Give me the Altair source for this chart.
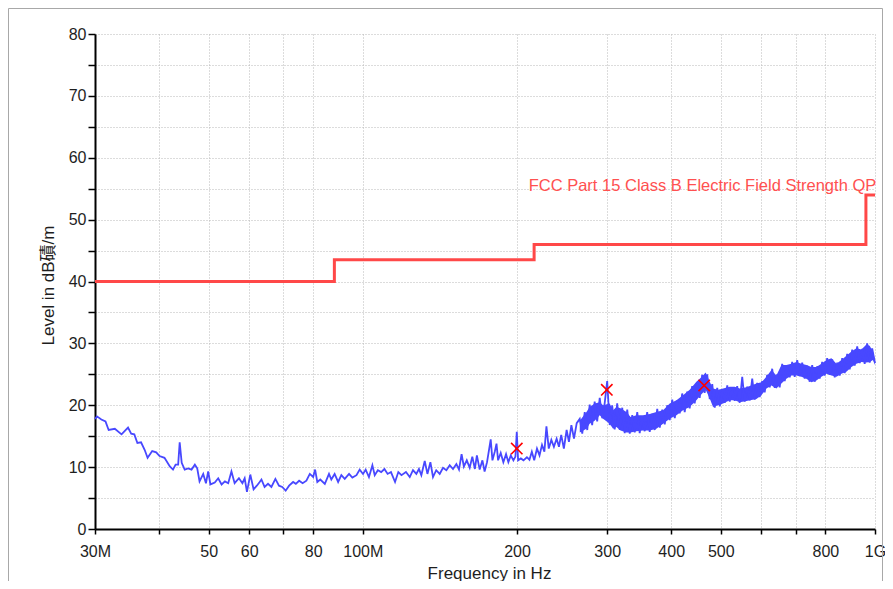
import altair as alt
import pandas as pd

# ---------------- data ----------------
trace_freq = [30.0, 30.27, 30.87, 31.45, 31.9, 32.8, 33.8, 34.8, 35.3, 35.8, 36.3, 36.9, 37.5, 38.0,
              38.8, 39.5, 40.1, 41.0, 42.0, 42.6, 43.1, 43.6, 43.9, 44.3, 44.9, 45.6, 46.3, 47.0,
              47.5, 48.0, 48.8, 49.4, 49.9, 50.4, 51.4, 52.2, 53.0, 53.8, 54.6, 55.4, 56.2, 57.3,
              58.2, 58.8, 59.4, 60.3, 61.2, 62.1, 62.9, 63.4, 64.3, 65.3, 66.3, 67.5, 68.6, 69.6,
              70.7, 71.8, 73.1, 74.0, 75.1, 76.3, 77.6, 78.8, 80.0, 80.7, 81.5, 82.6, 84.3, 85.9,
              86.8, 88.1, 89.5, 90.8, 92.2, 94.0, 95.4, 97.2, 98.6, 100.1, 101.3, 102.8, 104.4,
              105.5, 107.0, 108.6, 110.2, 111.8, 113.5, 115.6, 117.3, 119.0, 121.4, 123.5, 125.3,
              127.2, 128.7, 130.1, 132.1, 133.7, 135.5, 137.1, 139.1, 141.3, 143.4, 145.6, 147.8,
              150.0, 152.3, 154.1, 155.9, 157.5, 159.6, 161.7, 163.6, 165.5, 167.0, 169.1, 171.2,
              172.9, 174.8, 176.3, 177.7, 179.1, 181.0, 182.4, 183.7, 185.9, 188.1, 190.4, 192.4,
              194.5, 196.8, 198.6, 199.8, 201.0, 203.5, 205.9, 209.1, 211.5, 213.8, 216.1, 218.8,
              221.3, 223.8, 226.2, 228.3, 230.7, 233.4, 236.1, 239.0, 241.5, 244.0, 246.9, 250.0,
              252.6, 255.4, 258.4, 261.6,
              265.2, 268.2, 271.2, 274.3, 277.3, 280.4, 283.6, 286.8, 290.1, 293.4, 296.7, 300.0,
              303.4, 306.8, 310.3, 313.8, 317.4, 321.0, 324.6, 328.3, 332.0, 335.8, 339.5, 343.4,
              347.2, 351.1, 355.1, 359.1, 363.2, 367.3, 371.5, 375.7, 380.0, 384.3, 388.6, 393.0,
              397.4, 401.9, 406.5, 411.0, 415.6, 420.3, 425.1, 429.9, 434.7, 439.6, 444.6, 449.6,
              454.7, 459.8, 465.0, 470.3, 475.7, 481.1, 486.5, 492.0, 497.6, 503.2, 508.9, 514.7,
              520.4, 526.3, 532.2, 538.2, 544.3, 550.5, 556.7, 563.0, 569.4, 575.8, 582.3, 588.9,
              595.5, 602.2, 609.0, 615.9, 622.9, 629.9, 637.1, 644.3, 651.5, 658.9, 666.3, 673.9,
              681.5, 689.2, 697.0, 704.9, 712.8, 720.9, 729.0, 737.3, 745.6, 754.0, 762.5, 771.1,
              779.8, 788.6, 797.6, 806.6, 815.8, 825.0, 834.3, 843.8, 853.3, 862.9, 872.7, 882.5,
              892.5, 902.6, 912.8, 923.1, 933.5, 944.1, 954.7, 965.5, 976.3, 987.3, 1000.0]
trace_level = [17.8, 18.2, 17.7, 17.4, 16.0, 16.2, 15.3, 16.4, 15.4, 15.3, 13.9, 14.0, 12.8, 11.5,
               12.6, 12.4, 11.8, 11.5, 10.1, 9.6, 10.4, 10.4, 14.0, 10.7, 9.6, 9.8, 9.6, 10.4,
               9.8, 7.7, 8.9, 7.4, 9.3, 7.2, 7.5, 8.2, 7.2, 7.7, 7.4, 9.3, 7.4, 8.2,
               7.4, 8.2, 6.0, 8.8, 6.4, 7.0, 7.6, 8.0, 6.8, 7.3, 6.8, 8.1, 7.0, 6.8,
               6.2, 7.0, 7.6, 7.3, 7.8, 7.4, 7.8, 8.9, 8.4, 9.6, 7.6, 8.0, 7.3, 8.9,
               8.0, 8.9, 7.6, 8.7, 8.1, 8.9, 8.3, 8.7, 9.6, 8.9, 9.6, 8.4, 10.3,
               8.7, 9.5, 9.2, 9.7, 8.9, 9.2, 7.6, 9.2, 8.7, 9.2, 8.4, 9.5,
               8.9, 9.7, 8.7, 11.0, 8.9, 10.8, 8.4, 9.5, 8.9, 9.9, 9.5, 10.3,
               9.7, 10.5, 9.6, 12.1, 10.1, 11.1, 9.9, 11.7, 9.7, 11.9, 9.6, 11.1,
               9.3, 10.8, 12.7, 14.5, 11.1, 12.5, 13.8, 11.1, 12.3, 10.8, 12.1, 10.8,
               11.9, 11.1, 11.7, 15.7, 11.1, 11.4, 11.1, 11.6, 11.2, 12.5, 11.1, 13.0,
               11.9, 13.6, 12.5, 16.6, 13.0, 14.4, 13.3, 14.6, 13.3, 15.2, 13.0, 16.0,
               14.1, 16.8, 14.6, 17.1,
               17.8, 15.4, 18.9, 16.0, 20.1, 16.8, 20.6, 17.4, 21.2, 17.9, 20.4, 23.9,
               16.8, 20.0, 16.1, 20.3, 16.0, 19.6, 15.5, 19.3, 15.4, 18.4, 15.6, 18.9,
               15.5, 18.2, 15.8, 18.9, 15.7, 18.6, 16.0, 19.4, 16.4, 19.3, 16.9, 20.0,
               17.6, 20.9, 17.9, 20.8, 18.7, 21.9, 18.9, 22.2, 19.5, 23.1, 20.3, 23.6,
               21.2, 24.9, 22.0, 25.0, 21.0, 23.4, 19.6, 22.8, 19.8, 22.5, 20.4, 23.2,
               20.6, 22.6, 20.7, 23.1, 20.4, 24.6, 20.6, 23.0, 20.8, 24.3, 20.9, 23.6,
               21.3, 23.9, 22.1, 24.9, 22.9, 25.9, 22.8, 25.0, 22.9, 26.7, 23.9, 26.4,
               24.5, 27.0, 24.6, 27.3, 24.7, 26.9, 24.3, 26.4, 23.8, 26.5, 23.8, 26.3,
               24.3, 27.0, 24.8, 27.6, 24.9, 27.4, 24.5, 26.9, 24.8, 27.6, 25.2, 28.3,
               25.8, 29.0, 26.4, 29.5, 26.8, 29.1, 26.7, 30.0, 26.9, 29.2, 26.8]

band_freq = [265.2, 273.3, 277.3, 283.6, 290.1, 294.5, 303.4, 308.0, 312.7,
             318.6, 327.1, 333.3, 342.2, 352.4, 363.2, 374.3, 385.7, 397.4, 409.6, 421.8, 434.7,
             448.0, 456.4, 467.1, 475.7, 482.8, 493.8, 505.1, 520.4, 532.2, 544.3,
             561.0, 586.8, 600.1, 613.7, 627.8, 641.9, 656.6, 671.4,
             686.8, 702.3, 718.4, 734.6, 751.4, 768.4, 785.9, 803.7, 822.2, 840.8, 860.0, 879.4,
             899.5, 919.8, 940.8, 962.1, 976.3, 990.9, 1000.0]
band_high = [17.5, 18.9, 19.7, 20.3, 20.5, 20.0, 20.3, 19.2, 19.7,
             19.5, 18.9, 18.1, 18.4, 18.4, 18.6, 18.9, 19.2, 20.3, 20.8, 21.6, 22.5,
             23.8, 24.4, 25.3, 23.8, 22.7, 22.5, 22.7, 23.0, 23.0, 22.7,
             22.9, 23.5, 23.7, 24.6, 25.7, 24.8, 26.5, 26.5,
             26.7, 27.0, 26.7, 26.5, 26.2, 26.2, 26.7, 27.3, 27.6, 26.7, 27.3, 28.0,
             28.7, 29.2, 29.0, 29.8, 29.6, 28.7, 27.3]
band_low = [15.6, 16.2, 17.0, 17.5, 18.4, 17.8, 17.0, 16.2, 16.5,
            15.9, 15.6, 15.6, 15.8, 15.9, 15.9, 16.2, 17.0, 17.8, 18.4, 19.2, 19.7,
            20.8, 21.6, 22.5, 21.1, 19.7, 20.0, 20.3, 20.8, 20.8, 20.5,
            20.7, 21.0, 21.6, 22.7, 23.2, 22.7, 23.5, 24.3,
            24.8, 24.8, 24.6, 24.3, 23.7, 24.0, 24.6, 25.1, 24.8, 24.6, 25.1, 25.4,
            26.2, 26.7, 27.0, 26.9, 27.0, 27.3, 26.5]

limit_freq = [30, 88, 216, 960, 1000]
limit_level = [40, 43.5, 46, 54, 54]

peak_freq = [199.8, 299.5, 464.0]
peak_level = [13.0, 22.5, 23.2]

label_text = ["FCC Part 15 Class B Electric Field Strength QP"]
label_freq = [210.8]
label_level = [54.7]

x_ticks = [30, 40, 50, 60, 70, 80, 100, 200, 300, 400, 500, 600, 700, 800, 1000]
x_tick_labels = ["30M", "", "50", "60", "", "80", "100M", "200", "300", "400", "500", "", "", "800", "1G"]
y_ticks = list(range(0, 81, 5))

# ---------------- chart ----------------
FONT = "'Liberation Sans', Arial, 'Noto Sans CJK SC', sans-serif"
BLUE = "#4848ff"
RED = "#ff4848"

x_expr = " : ".join(f"datum.value == {v} ? '{t}'" for v, t in zip(x_ticks, x_tick_labels)) + " : ''"

xs = alt.Scale(type="log", domain=[30, 1000], nice=False)
ys = alt.Scale(domain=[0, 80], nice=False, zero=True)

xaxis = alt.Axis(values=x_ticks, labelExpr=x_expr, tickSize=5, labelPadding=9,
                 labelFlush=False, labelOverlap=False, labelBound=False,
                 title="Frequency in Hz", titleX=394, titleY=49,
                 titleBaseline="alphabetic", titleAlign="center")
yaxis = alt.Axis(values=y_ticks, labelExpr="datum.value % 10 == 0 ? datum.label : ''",
                 tickSize=7, labelPadding=2, labelOverlap=False, labelFlush=False,
                 title="Level in dB磧/m", titleX=-47, titleY=251, titleAngle=270,
                 titleBaseline="middle", titleAlign="center")

trace_df = pd.DataFrame({"freq": trace_freq, "level": trace_level})
band_df = pd.DataFrame({"freq": band_freq, "low": band_low, "high": band_high})
limit_df = pd.DataFrame({"freq": limit_freq, "level": limit_level})
peak_df = pd.DataFrame({"freq": peak_freq, "level": peak_level})
label_df = pd.DataFrame({"freq": label_freq, "level": label_level, "text": label_text})

frame = alt.Chart(pd.DataFrame({"a": [0]})).mark_rect(
    fill=None, stroke="#a8a8a8", strokeWidth=1
).encode(x=alt.value(-86.5), x2=alt.value(787.5), y=alt.value(-25.5), y2=alt.value(620))

band = alt.Chart(band_df).mark_area(color=BLUE, opacity=1).encode(
    x=alt.X("freq:Q", scale=xs, axis=xaxis),
    y=alt.Y("low:Q", scale=ys, axis=yaxis),
    y2="high:Q",
)

trace = alt.Chart(trace_df).mark_line(color=BLUE, strokeWidth=1.8).encode(
    x=alt.X("freq:Q", scale=xs, axis=xaxis),
    y=alt.Y("level:Q", scale=ys, axis=yaxis),
    order=alt.Order("freq:Q"),
)

limit = alt.Chart(limit_df).mark_line(color=RED, strokeWidth=3, interpolate="step-after").encode(
    x=alt.X("freq:Q", scale=xs, axis=xaxis),
    y=alt.Y("level:Q", scale=ys, axis=yaxis),
)

peaks = alt.Chart(peak_df).mark_point(
    shape="M-1,-1L1,1M-1,1L1,-1", size=130, filled=False, color="#ff0000",
    strokeWidth=1.6, opacity=1
).encode(
    x=alt.X("freq:Q", scale=xs, axis=xaxis),
    y=alt.Y("level:Q", scale=ys, axis=yaxis),
)

label = alt.Chart(label_df).mark_text(
    align="left", baseline="alphabetic", color="#ff5050", font=FONT, fontSize=16.5
).encode(
    x=alt.X("freq:Q", scale=xs, axis=xaxis),
    y=alt.Y("level:Q", scale=ys, axis=yaxis),
    text="text:N",
)

chart = alt.layer(frame, band, trace, limit, peaks, label).properties(
    width=780, height=495,
    autosize=alt.AutoSizeParams(type="none"),
    padding={"left": 87, "top": 26, "right": 10, "bottom": 52},
    background="white",
).configure_view(strokeWidth=0).configure_axis(
    domainColor="black", domainWidth=2, tickColor="black", tickWidth=1.5,
    gridColor="#b8b8b8", gridDash=[1, 2], gridWidth=1,
    labelFont=FONT, labelFontSize=16, labelColor="#1e1e1e",
    titleFont=FONT, titleFontSize=17, titleColor="#1e1e1e", titleFontWeight="normal",
)

chart.save("out.html", embed_options={"renderer": "svg", "actions": False})
